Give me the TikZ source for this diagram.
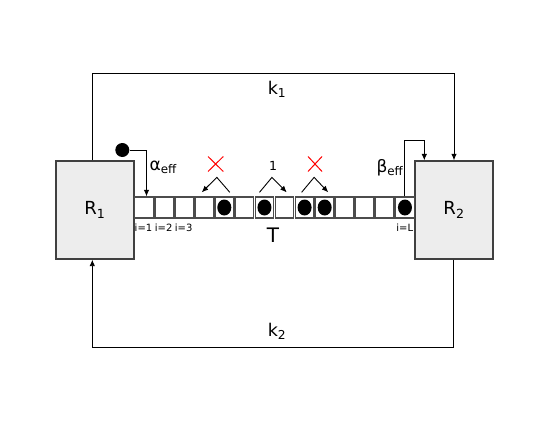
\documentclass[tikz,border=0pt]{standalone}
\usepackage{fontspec}
\setmainfont{DejaVu Sans}
\usetikzlibrary{arrows.meta,calc}
\begin{document}
\begin{tikzpicture}[x=1pt,y=-1pt,
  box/.style={draw=black!75, fill=black!7, line width=1.3pt, minimum width=78pt, minimum height=98pt, inner sep=0pt, font=\fontsize{18}{20}\selectfont},
  cell/.style={draw=black!70, line width=1.3pt, minimum width=18.5pt, minimum height=21pt, inner sep=0pt},
  conn/.style={line width=0.9pt, draw=black},
  arr/.style={conn, -{Latex[length=6.5pt,width=5.5pt]}},
  cross/.style={draw=red, line width=1pt},
  lbl/.style={inner sep=0pt, font=\fontsize{17.5}{19}\selectfont},
  small/.style={inner sep=0pt, font=\fontsize{10}{11}\selectfont},
]
\useasboundingbox (0,0) rectangle (545,436);
% reservoirs
\node[box] (R1) at (95,210) {R\textsubscript{1}};
\node[box] (R2) at (454,210) {R\textsubscript{2}};
% lattice cells
\foreach \i in {1,...,14}{
  \node[cell] (c\i) at ({134+(\i-0.5)*20.07},207.5) {};
}
\foreach \i in {5,7,9,10,14}{
  \fill (c\i.center) ellipse [x radius=7, y radius=8];
}
% loops
\coordinate (t1) at (92,73.5);
\coordinate (t2) at (454,73.5);
\coordinate (b1) at (92.3,347.3);
\coordinate (b2) at (453.7,347.3);
\draw[arr] (R1.north -| t1) -- (t1) -- (t2) -- (R2.north -| t2);
\draw[arr] (R2.south -| b2) -- (b2) -- (b1) -- (R1.south -| b1);
\node[lbl] (k1) at (277,89) {k\textsubscript{1}};
\node[lbl] (k2) at (277,331) {k\textsubscript{2}};
% entry
\node[circle, fill=black, minimum size=14pt, inner sep=0pt] (src) at (122.3,150) {};
\coordinate (a1) at (146.5,150);
\draw[arr] (src.east) -- (a1) -- (a1 |- c1.north);
\node[lbl, anchor=west, font=\fontsize{17}{19}\selectfont] (alpha) at (149.5,167) {α\textsubscript{eff}};
% exit
\coordinate (e1) at (404.5,140);
\coordinate (e2) at (424.3,140);
\draw[arr] (c14.north -| e1) -- (e1) -- (e2) -- (R2.north -| e2);
\node[lbl, font=\fontsize{17}{19}\selectfont] (beta) at (390,168) {β\textsubscript{eff}};
% hops
\draw[arr] ($(c5.north)+(5.5,-4)$) -- ($(c5.north)+(-7.5,-19)$) -- ($(c4.north)+(-2.5,-4)$);
\draw[arr] ($(c7.north)+(-5,-4)$) -- ($(c7.north)+(7.5,-19)$) -- ($(c8.north)+(2.2,-4)$);
\draw[arr] ($(c9.north)+(-3,-4)$) -- ($(c9.north)+(9.5,-19)$) -- ($(c10.north)+(3.6,-4)$);
\draw[cross] (208,156.5) -- (223.3,171.5) (208,171.5) -- (223.3,156.5);
\draw[cross] (308,156.5) -- (322,171.5) (308,171.5) -- (322,156.5);
\node[inner sep=0pt, font=\fontsize{12.5}{14}\selectfont] (one) at (273,166) {1};
% labels
\node[small] (l1) at (143.5,227.5) {i=1};
\node[small] (l2) at (163.6,227.5) {i=2};
\node[small] (l3) at (183.6,227.5) {i=3};
\node[small] (lL) at (404.7,227.5) {i=L};
\node[inner sep=0pt, font=\fontsize{20}{22}\selectfont] (T) at (273,235) {T};
\end{tikzpicture}
\end{document}
